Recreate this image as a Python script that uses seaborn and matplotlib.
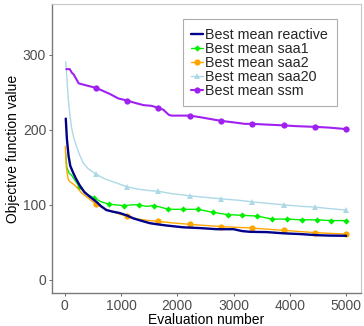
import numpy as np
import matplotlib
matplotlib.use("Agg")
import matplotlib.pyplot as plt
import seaborn as sns

# best-so-far curves
reactive_x = [20, 40, 70, 100, 150, 200, 267, 350, 445, 564, 650, 742, 850, 980, 1100, 1218,
              1350, 1515, 1650, 1812, 2109, 2406, 2703, 3000, 3150, 3297, 3594, 3891, 4188,
              4485, 4700, 5000]
reactive_y = [215, 188, 165, 152, 143, 135, 126, 117, 111, 104, 98, 93, 91, 89, 86, 82,
              79, 75.5, 74, 72.4, 70, 69, 67.5, 67.5, 65, 64, 63.6, 62, 61,
              59.5, 59, 58.7]

saa1_x = [15, 40, 80, 120, 180, 263, 400, 526, 650, 789, 900, 1053, 1200, 1316, 1450, 1579,
          1700, 1842, 2105, 2368, 2500, 2632, 2895, 3158, 3421, 3684, 3947, 4211, 4474, 4737, 5000]
saa1_y = [170, 150, 142, 140, 133, 124, 114, 109, 104, 101, 100, 99, 100, 100, 98, 99,
          97, 94, 94, 94, 92, 90, 87, 86, 85, 81, 81, 80, 80, 79, 79]

saa2_x = [12, 30, 60, 89, 150, 208, 300, 386, 470, 556, 700, 850, 1000, 1111, 1300, 1500, 1667,
          1900, 2222, 2500, 2778, 3050, 3333, 3600, 3889, 4150, 4444, 4700, 5000]
saa2_y = [178, 150, 135, 131, 128, 124, 116, 111, 106, 101, 95, 91, 87, 85, 81, 79, 78,
          76, 74, 72.5, 71, 70, 69, 67.5, 66, 64.5, 63, 62, 61]

saa20_x = [18, 40, 60, 90, 120, 160, 210, 270, 330, 420, 556, 700, 850, 1000, 1111, 1300, 1500,
           1667, 1900, 2222, 2500, 2778, 3100, 3333, 3600, 3889, 4200, 4444, 4700, 5000]
saa20_y = [291, 270, 245, 222, 204, 190, 178, 166, 156, 148, 141, 135, 131, 127, 124, 121, 119,
           118, 115, 112, 110, 108, 106, 104, 102, 100, 98, 97, 95, 93]

ssm_x = [30, 90, 130, 160, 250, 400, 556, 650, 800, 950, 1111, 1250, 1400, 1550, 1667, 1750,
         1850, 1900, 2222, 2400, 2550, 2700, 2778, 3000, 3200, 3333, 3600, 3889, 4100, 4444,
         4700, 5000]
ssm_y = [281, 281, 276, 274, 262, 259, 256, 253, 248, 242, 239, 236, 233, 232, 229, 227,
         220, 219, 219, 217, 215, 213, 212, 210, 208, 208, 207, 206, 205, 204,
         203, 201]

marks_9 = [556, 1111, 1667, 2222, 2778, 3333, 3889, 4444, 5000]
marks_19 = [263, 526, 789, 1053, 1316, 1579, 1842, 2105, 2368, 2632, 2895, 3158, 3421,
            3684, 3947, 4211, 4474, 4737, 5000]

series = [
    ("Best mean reactive", reactive_x, reactive_y, "#00008B", 1.7, None, None, 0, 6),
    ("Best mean saa1", saa1_x, saa1_y, "#00EE00", 1.0, "D", marks_19, 3.2, 4),
    ("Best mean saa2", saa2_x, saa2_y, "#FFA500", 1.0, "o", marks_9, 4.5, 4),
    ("Best mean saa20", saa20_x, saa20_y, "#ADD8E6", 1.0, "^", marks_9, 5.0, 3),
    ("Best mean ssm", ssm_x, ssm_y, "#A020F0", 1.5, "o", marks_9, 4.5, 5),
]

sns.set_theme(style="white")
plt.rcParams['font.family'] = ['Liberation Sans', 'DejaVu Sans']

fig = plt.figure(figsize=(3.64, 3.26), dpi=100)
ax = fig.add_axes([0.142, 0.101, 0.85, 0.887])

handles = []
for label, xs, ys, col, lw, mk, marks, ms, z in series:
    xs = np.array(xs)
    kw = dict(color=col, linewidth=lw, zorder=z)
    if mk is not None:
        kw.update(marker=mk, markersize=ms, markeredgewidth=0,
                  markevery=list(np.where(np.isin(xs, marks))[0]))
    sns.lineplot(x=xs, y=ys, ax=ax, estimator=None, sort=False, **kw)
    handles.append(ax.lines[-1])

for h, s in zip(handles, series):
    h.set_label(s[0])

ax.set_xlim(-230, 5265)
ax.set_ylim(-17.7, 368)
ax.set_xticks([0, 1000, 2000, 3000, 4000, 5000])
ax.set_yticks([0, 100, 200, 300])
ax.set_xlabel("Evaluation number", fontsize=10, color="black", labelpad=0)
ax.set_ylabel("Objective function value", fontsize=10, color="black", labelpad=2)
ax.tick_params(axis="both", labelsize=10, labelcolor="#4D4D4D", color="#4D4D4D",
               length=2.5, width=0.6, direction="out", pad=1.5, bottom=True, left=True)
for side in ["left", "bottom"]:
    ax.spines[side].set_color("#7A7A7A")
    ax.spines[side].set_linewidth(1.0)
for side in ["top", "right"]:
    ax.spines[side].set_color("#C8C8C8")
    ax.spines[side].set_linewidth(0.8)
ax.grid(False)

leg = ax.legend(handles=handles, loc="upper right", bbox_to_anchor=(0.922, 0.948),
                fontsize=10.3, frameon=True, fancybox=False, labelspacing=0.0,
                numpoints=1, handlelength=0.8, handletextpad=0.2, borderpad=0.6,
                borderaxespad=0)
leg.get_frame().set_edgecolor("#999999")
leg.get_frame().set_linewidth(0.8)
for lh in leg.legend_handles:
    lh.set_markevery([1])

fig.savefig("out.png", dpi=100)
